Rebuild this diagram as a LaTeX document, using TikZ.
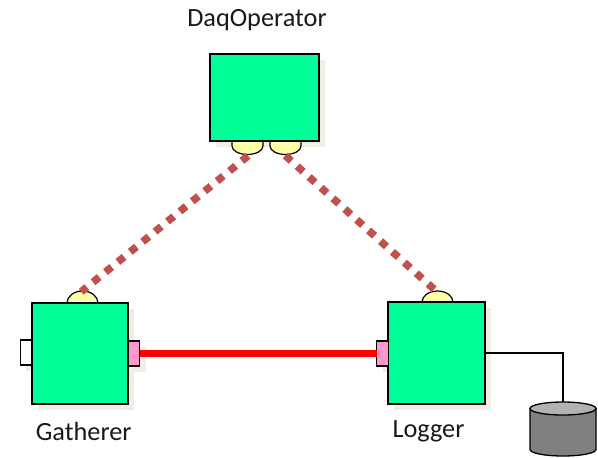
\documentclass[tikz,border=0pt]{standalone}
\usepackage{fontspec}
\setmainfont{Carlito}
\definecolor{boxgreen}{HTML}{00FF99}
\definecolor{lollipop}{HTML}{FFFFA6}
\definecolor{portpink}{HTML}{FF99CC}
\definecolor{dotred}{HTML}{C0504D}
\definecolor{shadecol}{HTML}{F0EFE6}
\tikzset{
  x=1pt,y=-1pt,
  every node/.style={inner sep=0pt,outer sep=0pt},
  compbox/.style={draw=black,line width=1.4pt,fill=boxgreen,rectangle},
  portbox/.style={draw=black,line width=1.2pt,rectangle,minimum width=11.5pt,minimum height=25pt},
  lolli/.style={draw=black,line width=1.2pt,fill=lollipop},
  svc/.style={dotred,line width=7.5pt,dash pattern=on 8pt off 8pt},
  stream/.style={red,line width=7.5pt},
  wire/.style={black,line width=1.1pt},
  label/.style={font=\fontsize{26.3}{30}\selectfont,text=black!90,anchor=base},
}
\begin{document}
\begin{tikzpicture}
\useasboundingbox (0,0) rectangle (598,458);
% shadows
\fill[shadecol] (216,60) rectangle (325,147);
\fill[shadecol] (38,309) rectangle (134,410);
\fill[shadecol] (394,308) rectangle (491,410);
\fill[shadecol] (26,346) rectangle (32,371);
\fill[shadecol] (128,347) rectangle (146,372);
\fill[shadecol] (383,347) rectangle (388,372);
% connector ends
\coordinate (opL) at (248.1,155.8);
\coordinate (opR) at (285.3,155.6);
\coordinate (gaT) at (81.2,291.8);
\coordinate (loT) at (434.3,289.4);
\coordinate (dbTop) at (563,402);
% lollipops
\draw[lolli] (232,141) -- (232,146) arc[start angle=180,end angle=360,x radius=15.5,y radius=-8.5] -- (263,141) -- cycle;
\draw[lolli] (270,141) -- (270,146) arc[start angle=180,end angle=360,x radius=15.5,y radius=-8.5] -- (301,141) -- cycle;
\draw[lolli] (67,303) arc[start angle=180,end angle=0,x radius=15.5,y radius=-12] -- cycle;
\draw[lolli] (422,302) arc[start angle=180,end angle=0,x radius=15.5,y radius=-11] -- cycle;
% components
\node[compbox,minimum width=109pt,minimum height=87pt] (daq) at (264.5,97.5) {};
\node[compbox,minimum width=96pt,minimum height=101pt] (gat) at (80,353.5) {};
\node[compbox,minimum width=97pt,minimum height=102pt] (log) at (436.5,353) {};
% ports
\node[portbox,fill=white] (gin) at (26,352.5) {};
\node[portbox,fill=portpink] (gout) at (134,353.5) {};
\node[portbox,fill=portpink] (lin) at (382.5,353.5) {};
% connectors
\draw[svc] (opL) -- (gaT);
\draw[svc] (opR) -- (loT);
\draw[stream] (gout.east) -- (lin.west);
\draw[wire] (log.east) -| (dbTop);
% database
\draw[line width=1.3pt,fill=black!50] (530,408.5) -- (530,449.5) arc[start angle=180,end angle=360,x radius=33,y radius=-6.5] -- (596,408.5) -- cycle;
\draw[line width=1.3pt,fill=black!30] (563,408.5) ellipse[x radius=33,y radius=6.5];
% labels
\node[label] (tdaq) at (257,26) {DaqOperator};
\node[label] (tgat) at (83.7,440) {Gatherer};
\node[label] (tlog) at (428.5,437.3) {Logger};
\end{tikzpicture}
\end{document}
